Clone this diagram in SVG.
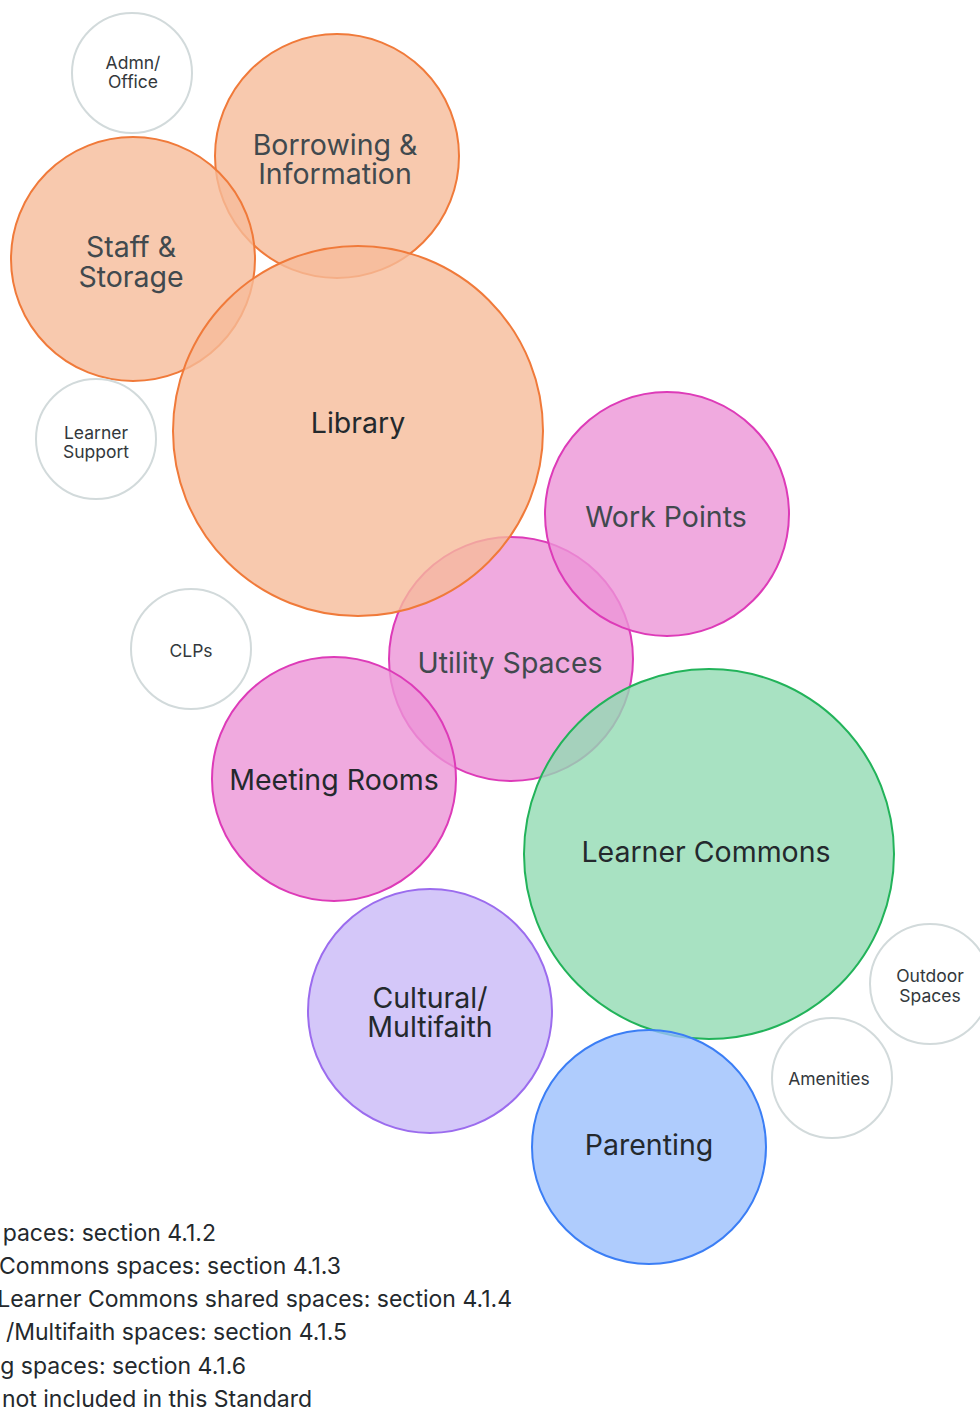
<svg xmlns="http://www.w3.org/2000/svg" width="980" height="1411" viewBox="0 0 980 1411">
  <style>
    text { font-family: Inter, "Noto Sans", "Liberation Sans", sans-serif; text-anchor: middle; }
    .bub { stroke-width: 2; fill-opacity: 0.8; }
    .orange { fill: #f6bb9a; stroke: #f07a3a; }
    .pink { fill: #ec95d7; stroke: #dd3bb8; }
    .green { fill: #92dbb3; stroke: #22b35a; }
    .purple { fill: #c9b9f7; stroke: #9b6cee; }
    .blue { fill: #9bbffc; stroke: #3b7ef5; }
    .other { fill: #ffffff; stroke: #d2dadb; stroke-width: 2; }
    .lbl { font-size: 28.5px; fill: #41494e; }
    .lbl-dark { font-size: 28.5px; fill: #24292d; }
    .sm { font-size: 17.5px; fill: #33383c; }
    .legend { font-size: 23px; fill: #24292d; text-anchor: end; }
  </style>

  <!-- space bubbles, painted back to front -->
  <g id="borrowing">
    <circle class="bub orange" cx="337" cy="156" r="122"/>
    <text class="lbl" x="335" y="155">Borrowing &amp;</text>
    <text class="lbl" x="335" y="184">Information</text>
  </g>
  <g id="staff-storage">
    <circle class="bub orange" cx="133" cy="259" r="122"/>
    <text class="lbl" x="131" y="257">Staff &amp;</text>
    <text class="lbl" x="131" y="287">Storage</text>
  </g>
  <g id="utility-spaces">
    <circle class="bub pink" cx="511" cy="659" r="122"/>
  </g>
  <g id="library">
    <circle class="bub orange" cx="358" cy="431" r="185"/>
    <text class="lbl-dark" x="358" y="433">Library</text>
  </g>
  <g id="utility-label">
    <text class="lbl" x="510" y="673">Utility Spaces</text>
  </g>
  <g id="work-points">
    <circle class="bub pink" cx="667" cy="514" r="122"/>
    <text class="lbl" x="666" y="527">Work Points</text>
  </g>
  <g id="meeting-rooms">
    <circle class="bub pink" cx="334" cy="779" r="122"/>
    <text class="lbl-dark" x="334" y="790">Meeting Rooms</text>
  </g>
  <g id="learner-commons">
    <circle class="bub green" cx="709" cy="854" r="185"/>
    <text class="lbl-dark" x="706" y="862">Learner Commons</text>
  </g>
  <g id="cultural-multifaith">
    <circle class="bub purple" cx="430" cy="1011" r="122"/>
    <text class="lbl-dark" x="430" y="1008">Cultural/</text>
    <text class="lbl-dark" x="430" y="1037">Multifaith</text>
  </g>
  <g id="parenting">
    <circle class="bub blue" cx="649" cy="1147" r="117"/>
    <text class="lbl-dark" x="649" y="1155">Parenting</text>
  </g>

  <!-- spaces outside the Standard -->
  <g id="admn-office">
    <circle class="other" cx="132" cy="73" r="60"/>
    <text class="sm" x="133" y="69">Admn/</text>
    <text class="sm" x="133" y="88">Office</text>
  </g>
  <g id="learner-support">
    <circle class="other" cx="96" cy="439" r="60"/>
    <text class="sm" x="96" y="439">Learner</text>
    <text class="sm" x="96" y="458">Support</text>
  </g>
  <g id="clps">
    <circle class="other" cx="191" cy="649" r="60"/>
    <text class="sm" x="191" y="657">CLPs</text>
  </g>
  <g id="outdoor-spaces">
    <circle class="other" cx="930" cy="984" r="60"/>
    <text class="sm" x="930" y="982">Outdoor</text>
    <text class="sm" x="930" y="1002">Spaces</text>
  </g>
  <g id="amenities">
    <circle class="other" cx="832" cy="1078" r="60"/>
    <text class="sm" x="829" y="1085">Amenities</text>
  </g>

  <!-- connectors: none in this chart -->
  <g id="connectors"/>

  <!-- legend -->
  <g id="legend">
    <text class="legend" x="216" y="1241">paces: section 4.1.2</text>
    <text class="legend" x="341" y="1274">Commons spaces: section 4.1.3</text>
    <text class="legend" x="512" y="1307">Learner Commons shared spaces: section 4.1.4</text>
    <text class="legend" x="347" y="1340">/Multifaith spaces: section 4.1.5</text>
    <text class="legend" x="246" y="1374">g spaces: section 4.1.6</text>
    <text class="legend" x="312" y="1407">not included in this Standard</text>
  </g>
</svg>
